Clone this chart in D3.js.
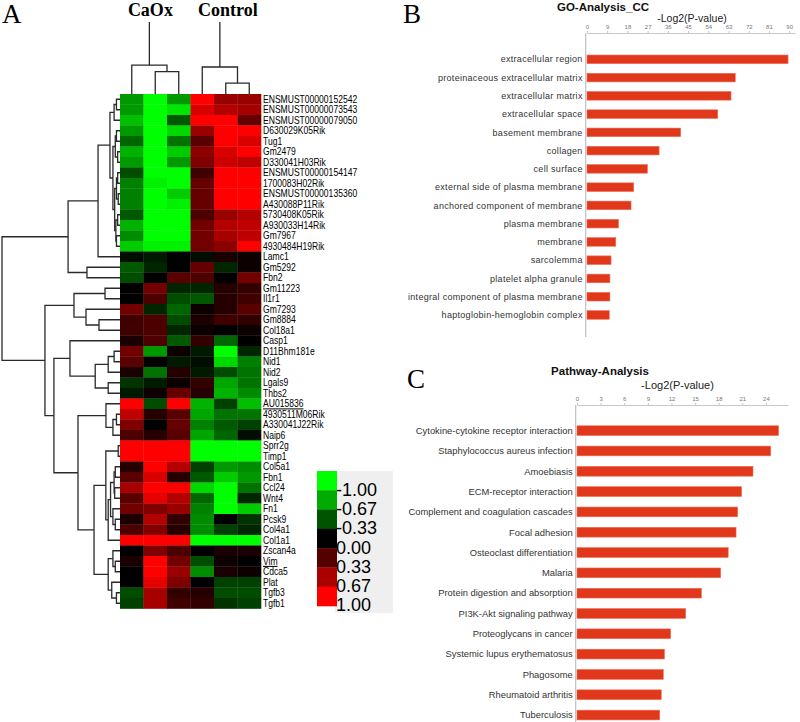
<!DOCTYPE html>
<html><head><meta charset="utf-8">
<script src="https://cdn.jsdelivr.net/npm/d3@7"></script>
<style>body{margin:0;background:#fff}</style>
</head><body><svg id="c" width="800" height="722"></svg>
<script>
// ---------------- DATA ----------------
const genes = ["ENSMUST00000152542","ENSMUST00000073543","ENSMUST00000079050","D630029K05Rik","Tug1","Gm2479","D330041H03Rik","ENSMUST00000154147","1700083H02Rik","ENSMUST00000135360","A430088P11Rik","5730408K05Rik","A930033H14Rik","Gm7967","4930484H19Rik","Lamc1","Gm5292","Fbn2","Gm11223","Il1r1","Gm7293","Gm8884","Col18a1","Casp1","D11Bhm181e","Nid1","Nid2","Lgals9","Thbs2","AU015836","4930511M06Rik","A330041J22Rik","Naip6","Sprr2g","Timp1","Col5a1","Fbn1","Ccl24","Wnt4","Fn1","Pcsk9","Col4a1","Col1a1","Zscan4a","Vim","Cdca5","Plat","Tgfb3","Tgfb1"];
const underlinedGenes = ["AU015836","Vim"];
const samples = ["CaOx-1","CaOx-2","CaOx-3","Control-1","Control-2","Control-3"];
const groups = ["CaOx","Control"];
const expr = [
 [-0.6,-1,-0.6,1,0.6,0.6],
 [-0.6,-1,-0.9,0.85,0.7,0.65],
 [-0.75,-1,-0.35,1,1,0.4],
 [-0.6,-1,-0.85,0.6,1,1],
 [-0.4,-1,-0.45,0.35,1,0.85],
 [-0.7,-1,-0.8,0.55,0.85,1],
 [-0.6,-1,-0.6,0.5,0.8,0.75],
 [-0.3,-1,-1,0.25,1,1],
 [-0.5,-0.95,-1,0.4,1,1],
 [-0.5,-1,-0.8,0.4,1,1],
 [-0.5,-1,-0.95,0.4,1,1],
 [-0.35,-1,-1,0.3,0.6,0.7],
 [-0.7,-1,-1,0.45,0.7,0.75],
 [-0.55,-1,-1,0.45,0.65,0.75],
 [-0.8,-0.95,-0.95,0.45,0.55,1],
 [-0.05,-0.1,0,-0.05,0.1,0.05],
 [-0.35,-0.15,0,0.4,-0.15,0.05],
 [-0.3,0,0.35,0.3,0,0.45],
 [0,0.45,-0.15,-0.15,0.15,0.2],
 [0,0.3,-0.3,-0.35,0.15,0.25],
 [0.45,-0.15,-0.4,0.05,0.15,0.35],
 [0.25,0.3,-0.3,0.1,0.25,0.2],
 [0.25,0.3,-0.15,0.05,0,0.05],
 [0.1,0.3,-0.35,0.2,-0.4,0],
 [0.45,-0.6,0.05,-0.1,-1,-0.15],
 [0.35,0,-0.1,-0.05,-0.85,-0.5],
 [0.1,-0.45,0.15,-0.1,-0.3,-0.45],
 [-0.2,-0.1,0.05,0.2,-0.65,-0.45],
 [-0.1,0.05,0.4,0.15,-0.7,-0.55],
 [1,-0.3,1,-0.7,-0.25,-0.75],
 [0.75,0.15,0.35,-0.65,-0.45,-0.45],
 [0.5,0,0.4,-0.5,-0.35,-0.25],
 [0.3,0.15,0.35,-0.65,-0.4,-0.05],
 [1,1,1,-1,-1,-1],
 [1,1,1,-1,-1,-1],
 [0.15,1,0.7,-0.25,-0.6,-0.55],
 [0.35,0.85,0.15,-0.35,-0.8,-0.6],
 [0.65,1,1,-0.85,-1,-0.45],
 [0.35,0.9,0.7,-0.4,-1,-0.15],
 [0.45,0.5,0.6,-0.5,-1,-0.8],
 [0.1,0.7,0.2,-0.55,0,-0.2],
 [0.3,0.5,0.15,-0.55,-0.25,-0.15],
 [1,1,1,-1,-1,-1],
 [0,0.5,0.3,0,0.1,0.1],
 [0.1,1,0.45,-0.3,0.05,0],
 [0,1,0.6,-0.55,0.1,0.05],
 [0,0.9,0.5,0,-0.25,-0.25],
 [-0.3,0.65,0.2,0.15,-0.3,-0.3],
 [-0.25,0.65,0.25,0.2,-0.2,-0.25]
];
// dendrograms: [height, left, right]; leaves are row / column indices
const rowTree = [1.0,
  [0.44,
    [0.186,
      [0.085,
        [0.05,[0.03,0,1],2],
        [0.06,[0.04,[0.03,3,4],[0.02,5,6]],
               [0.045,[0.03,[0.02,7,8],[0.015,9,10]],[0.035,[0.02,11,12],[0.03,13,14]]]]],
      15],
    [0.28,16,17]],
  [0.636,
    [0.39,[0.127,18,19],[0.288,20,[0.178,21,22]]],
    [0.56,
      [0.424,23,[0.21,[0.1,[0.05,24,25],26],[0.1,27,28]]],
      [0.356,
        [0.119,29,[0.06,[0.03,30,31],32]],
        [0.22,
          [0.12,[0.015,33,34],[0.1,[0.08,[0.05,[0.04,35,36],[0.045,37,38]],[0.06,39,[0.04,40,41]]],42]],
          [0.1,[0.06,43,[0.04,44,45]],[0.07,46,[0.03,47,48]]]]]]]];
const colTrees = [[0.40,0,[0.31,1,2]],[0.375,3,[0.15,4,5]]];
const legendTicks = ["-1.00","-0.67","-0.33","0.00","0.33","0.67","1.00"];
const legendValues = [-1,-0.67,-0.33,0,0.33,0.67,1];

const goTerms = ["extracellular region","proteinaceous extracellular matrix","extracellular matrix","extracellular space","basement membrane","collagen","cell surface","external side of plasma membrane","anchored component of membrane","plasma membrane","membrane","sarcolemma","platelet alpha granule","integral component of plasma membrane","haptoglobin-hemoglobin complex"];
const goValues = [89.5,66,64.1,58.2,41.7,32.1,26.9,20.8,19.6,14.0,12.8,10.7,10.2,10.2,9.9];
const goTicks = [0,9,18,27,36,45,54,63,72,81,90];

const pathTerms = ["Cytokine-cytokine receptor interaction","Staphylococcus aureus infection","Amoebiasis","ECM-receptor interaction","Complement and coagulation cascades","Focal adhesion","Osteoclast differentiation","Malaria","Protein digestion and absorption","PI3K-Akt signaling pathway","Proteoglycans in cancer","Systemic lupus erythematosus","Phagosome","Rheumatoid arthritis","Tuberculosis"];
const pathValues = [25.6,24.6,22.35,20.9,20.4,20.2,19.2,18.25,15.8,13.8,11.9,11.1,10.96,10.7,10.5];
const pathTicks = [0,3,6,9,12,15,18,21,24];

// ---------------- DRAW ----------------
const svg = d3.select("#c");
const serif = "'Liberation Serif','Times New Roman',serif";
const sans = "'Liberation Sans',Arial,sans-serif";

// Panel letters
[["A",2,23],["B",403,23],["C",407,388]].forEach(([t,x,y])=>{
  svg.append("text").attr("x",x).attr("y",y).text(t)
    .attr("font-family",serif).attr("font-size",27).attr("fill","#000");
});

// Heatmap
const color = d3.scaleLinear().domain([-1,0,1]).range(["#00ff00","#000000","#ff0000"]);
const xH = d3.scaleBand().domain(d3.range(samples.length)).range([120,261]);
const yH = d3.scaleBand().domain(d3.range(genes.length)).range([94,608.5]);
const heat = svg.append("g");
expr.forEach((row,i)=>row.forEach((v,j)=>{
  heat.append("rect").attr("x",xH(j)).attr("y",yH(i))
    .attr("width",xH.bandwidth()+0.3).attr("height",yH.bandwidth()+0.3)
    .attr("fill",color(v));
}));

// Gene labels (condensed)
const lab = svg.append("g").attr("transform","translate(263,0) scale(0.84,1)");
genes.forEach((g,i)=>{
  const t = lab.append("text").attr("x",0).attr("y",yH(i)+yH.bandwidth()/2).attr("dy","0.35em")
    .attr("font-family",sans).attr("font-size",10.2).attr("fill","#000").text(g);
  if(underlinedGenes.includes(g)) t.attr("text-decoration","underline");
});

// Row dendrogram
const xD = d3.scaleLinear().domain([0,1]).range([120,2]);
const den = svg.append("g").attr("stroke","#2a2a2a").attr("stroke-width",1.3).attr("fill","none");
function layoutRow(n){
  if(typeof n==="number") return {x:xD(0), y:yH(n)+yH.bandwidth()/2};
  const a = layoutRow(n[1]), b = layoutRow(n[2]);
  const x = xD(n[0]);
  den.append("path").attr("d",`M${a.x},${a.y}H${x}V${b.y}H${b.x}`);
  return {x, y:(a.y+b.y)/2};
}
layoutRow(rowTree);

// Column dendrogram
const yD = d3.scaleLinear().domain([0,1]).range([94,22]);
const cden = svg.append("g").attr("stroke","#2a2a2a").attr("stroke-width",1.3).attr("fill","none");
function layoutCol(n){
  if(typeof n==="number") return {x:xH(n)+xH.bandwidth()/2, y:yD(0)};
  const a = layoutCol(n[1]), b = layoutCol(n[2]);
  const y = yD(n[0]);
  cden.append("path").attr("d",`M${a.x},${a.y}V${y}H${b.x}V${b.y}`);
  return {x:(a.x+b.x)/2, y};
}
colTrees.forEach((t,k)=>{
  const p = layoutCol(t);
  cden.append("path").attr("d",`M${p.x},${p.y}V${yD(1)}`);
  svg.append("text").attr("x",p.x+ (k===0?1:8)).attr("y",16).attr("text-anchor","middle")
    .attr("font-family",serif).attr("font-weight","bold").attr("font-size",18).text(groups[k]);
});

// Legend
const lg = svg.append("g");
lg.append("rect").attr("x",335).attr("y",471).attr("width",58).attr("height",142).attr("fill","#efefef");
const yL = d3.scaleBand().domain(d3.range(legendValues.length)).range([471,606]);
legendValues.forEach((v,i)=>{
  lg.append("rect").attr("x",317).attr("y",yL(i)).attr("width",20).attr("height",yL.bandwidth()+0.3).attr("fill",color(v));
  lg.append("text").attr("x",336).attr("y",yL(i)+yL.bandwidth()-1).attr("dy","0.36em")
    .attr("font-family",sans).attr("font-size",18).attr("fill","#000").text(legendTicks[i]);
});

// Bar chart helper
function barChart(o){
  const g = svg.append("g");
  const x = d3.scaleLinear().domain([0,o.max]).range([o.x0,o.x1]);
  const y = d3.scaleBand().domain(o.terms).range([o.y0,o.y1]).paddingInner(o.pad).paddingOuter(o.pad/2);
  g.append("text").attr("x",o.titleX).attr("y",o.titleY).attr("text-anchor","middle")
    .attr("font-family",sans).attr("font-weight","bold").attr("font-size",11.5).attr("fill","#111").text(o.title);
  g.append("text").attr("x",o.subX).attr("y",o.subY).attr("text-anchor","middle")
    .attr("font-family",sans).attr("font-size",o.subSize).attr("fill","#222").text("-Log2(P-value)");
  const ax = g.append("g").attr("transform",`translate(0,${o.axisY})`)
    .call(d3.axisTop(x).tickValues(o.ticks).tickSize(2).tickSizeOuter(0).tickPadding(2));
  ax.select(".domain").attr("stroke","#c8c8c8");
  ax.selectAll(".tick line").attr("stroke","#c8c8c8");
  ax.selectAll(".tick text").attr("font-size",6).attr("font-family",sans).attr("fill","#777");
  g.append("line").attr("x1",o.vx).attr("x2",o.vx).attr("y1",o.axisY).attr("y2",o.vy1)
    .attr("stroke","#c0c0c0").attr("stroke-width",1.2);
  g.selectAll("rect.bar").data(o.values).join("rect").attr("class","bar")
    .attr("x",x(0)).attr("y",(d,i)=>y(o.terms[i])).attr("width",d=>x(d)-x(0)).attr("height",y.bandwidth())
    .attr("fill","#e1381b").attr("stroke","#ec6a50").attr("stroke-width",0.6);
  g.selectAll("text.lab").data(o.terms).join("text").attr("class","lab")
    .attr("x",o.labX).attr("y",d=>y(d)+y.bandwidth()/2).attr("dy","0.35em").attr("text-anchor","end")
    .attr("font-family",sans).attr("font-size",o.labSize).attr("letter-spacing",o.ls)
    .attr("fill","#333").text(d=>d);
}
barChart({terms:goTerms, values:goValues, ticks:goTicks, max:92.6, x0:587, x1:795,
  y0:50.2, y1:324.1, pad:0.53, axisY:33, vx:585.7, vy1:337, labX:582.7, labSize:9, ls:0.3,
  title:"GO-Analysis_CC", titleX:603, titleY:11, subX:692, subY:22, subSize:10.5});
barChart({terms:pathTerms, values:pathValues, ticks:pathTicks, max:26.8, x0:577, x1:788,
  y0:420.5, y1:725.2, pad:0.52, axisY:405, vx:575.7, vy1:722, labX:572.7, labSize:9.4, ls:0,
  title:"Pathway-Analysis", titleX:600, titleY:374.5, subX:677.5, subY:388.5, subSize:11});
</script></body></html>
